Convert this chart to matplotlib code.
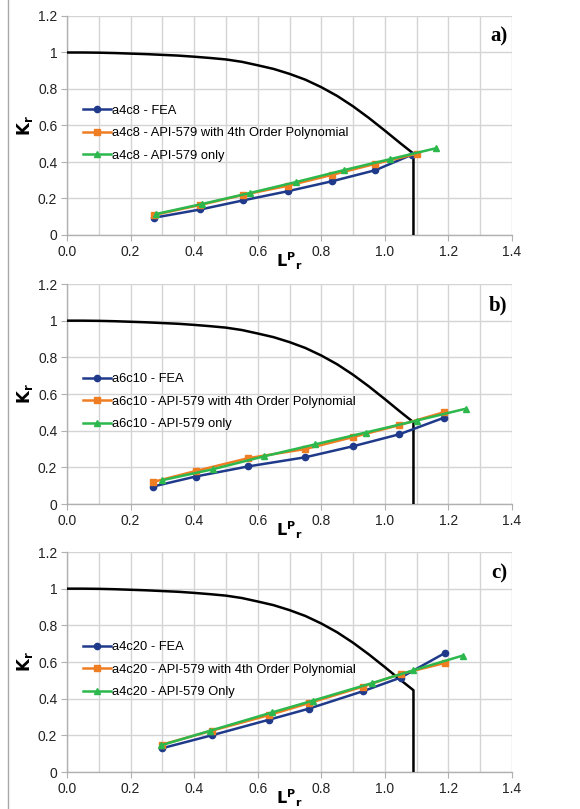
import numpy as np
import matplotlib
matplotlib.use('Agg')
from matplotlib import pyplot as plt
from matplotlib.lines import Line2D

# failure assessment curve (same in all three panels)
fad_lr = [0.0, 0.05, 0.1, 0.15, 0.2, 0.25, 0.3, 0.35, 0.4, 0.45, 0.5, 0.55, 0.6,
          0.65, 0.7, 0.75, 0.8, 0.85, 0.9, 0.95, 1.0, 1.05, 1.09, 1.09]
fad_kr = [1.0, 1.0, 0.999, 0.997, 0.994, 0.991, 0.987, 0.983, 0.977, 0.970, 0.962, 0.949, 0.930,
          0.910, 0.883, 0.851, 0.810, 0.762, 0.705, 0.641, 0.572, 0.501, 0.446, 0.0]

# panel a) a4c8
a_fea_x = [0.275, 0.42, 0.555, 0.695, 0.835, 0.97, 1.085]
a_fea_y = [0.095, 0.14, 0.19, 0.24, 0.295, 0.355, 0.44]
a_poly_x = [0.275, 0.42, 0.555, 0.695, 0.835, 0.97, 1.10]
a_poly_y = [0.11, 0.165, 0.22, 0.27, 0.33, 0.39, 0.445]
a_api_x = [0.28, 0.425, 0.575, 0.72, 0.87, 1.015, 1.16]
a_api_y = [0.115, 0.17, 0.23, 0.29, 0.355, 0.415, 0.475]

# panel b) a6c10
b_fea_x = [0.27, 0.405, 0.57, 0.75, 0.90, 1.045, 1.185]
b_fea_y = [0.095, 0.15, 0.205, 0.255, 0.315, 0.38, 0.47]
b_poly_x = [0.27, 0.405, 0.57, 0.75, 0.90, 1.045, 1.185]
b_poly_y = [0.12, 0.18, 0.25, 0.30, 0.365, 0.43, 0.50]
b_api_x = [0.30, 0.46, 0.62, 0.78, 0.94, 1.10, 1.255]
b_api_y = [0.13, 0.19, 0.26, 0.325, 0.39, 0.455, 0.52]

# panel c) a4c20
c_fea_x = [0.30, 0.455, 0.635, 0.76, 0.93, 1.05, 1.19]
c_fea_y = [0.13, 0.20, 0.285, 0.345, 0.44, 0.515, 0.65]
c_poly_x = [0.30, 0.455, 0.635, 0.76, 0.93, 1.05, 1.19]
c_poly_y = [0.15, 0.225, 0.31, 0.375, 0.465, 0.535, 0.595]
c_api_x = [0.295, 0.45, 0.645, 0.775, 0.96, 1.09, 1.245]
c_api_y = [0.145, 0.225, 0.325, 0.39, 0.485, 0.555, 0.635]

panels = [
    ('a)', 'a4c8', 'API-579 only', a_fea_x, a_fea_y, a_poly_x, a_poly_y, a_api_x, a_api_y),
    ('b)', 'a6c10', 'API-579 only', b_fea_x, b_fea_y, b_poly_x, b_poly_y, b_api_x, b_api_y),
    ('c)', 'a4c20', 'API-579 Only', c_fea_x, c_fea_y, c_poly_x, c_poly_y, c_api_x, c_api_y),
]

blue = '#1f3a8a'
orange = '#ef7d22'
green = '#2cb84c'
grid_col = '#d4d4d4'
spine_col = '#b0b0b0'

plt.rcParams['font.family'] = ['Liberation Sans', 'DejaVu Sans']

fig = plt.figure(figsize=(5.8, 8.09), dpi=100)

# axes boxes in pixels: (top, bottom)
boxes = [(16, 235), (284, 504), (552, 772)]
left_px, right_px = 67, 512
W, H = 580, 809

for (top, bot), p in zip(boxes, panels):
    tag, name, api_txt, fx, fy, px, py, ax_, ay = p
    ax = fig.add_axes([left_px / W, 1 - bot / H, (right_px - left_px) / W, (bot - top) / H])

    ax.set_xlim(0, 1.4)
    ax.set_ylim(0, 1.2)
    ax.set_xticks(np.arange(0, 1.41, 0.2))
    ax.set_xticks(np.arange(0, 1.41, 0.1), minor=True)
    ax.set_yticks(np.arange(0, 1.21, 0.2))
    ax.set_xticklabels(['0.0', '0.2', '0.4', '0.6', '0.8', '1.0', '1.2', '1.4'])
    ax.set_yticklabels(['0', '0.2', '0.4', '0.6', '0.8', '1', '1.2'])
    ax.tick_params(which='major', length=4, color=spine_col, labelsize=10, labelcolor='#222222', pad=3)
    ax.tick_params(which='minor', length=0)
    ax.grid(True, which='both', axis='x', color=grid_col, lw=1.0)
    ax.grid(True, which='major', axis='y', color=grid_col, lw=1.0)
    ax.set_axisbelow(True)
    for s in ['top', 'right']:
        ax.spines[s].set_visible(False)
    for s in ['left', 'bottom']:
        ax.spines[s].set_color(spine_col)
        ax.spines[s].set_linewidth(1.0)

    ax.plot(fad_lr, fad_kr, color='black', lw=1.8, zorder=3)
    ax.plot(fx, fy, color=blue, marker='o', ms=4.5, lw=1.8, label=name + ' - FEA', zorder=4)
    ax.plot(px, py, color=orange, marker='s', ms=5, lw=1.8,
            label=name + ' - API-579 with 4th Order Polynomial', zorder=5)
    ax.plot(ax_, ay, color=green, marker='^', ms=5, lw=1.8, label=name + ' - ' + api_txt, zorder=6)

    ax.legend(loc='upper left', bbox_to_anchor=(0.015, 0.635), frameon=False, fontsize=9.3,
              handlelength=2.2, handletextpad=0.05, labelspacing=0.8, borderpad=0.2)

    ax.set_xlabel(r'$\mathbf{L^{P}}_{\mathbf{r}}$', fontsize=11.5, labelpad=-6)
    ax.set_ylabel(r'$\mathbf{K_{r}}$', fontsize=12, labelpad=2)
    ax.text(0.99, 0.95, tag, transform=ax.transAxes, ha='right', va='top',
            fontsize=15, fontweight='bold', family='Liberation Serif')

# gray frame line along the left edge
fig.add_artist(Line2D([8 / W, 8 / W], [0, 1], transform=fig.transFigure, color='#a8a8a8', lw=1.0))

fig.savefig('out.png', dpi=100)
